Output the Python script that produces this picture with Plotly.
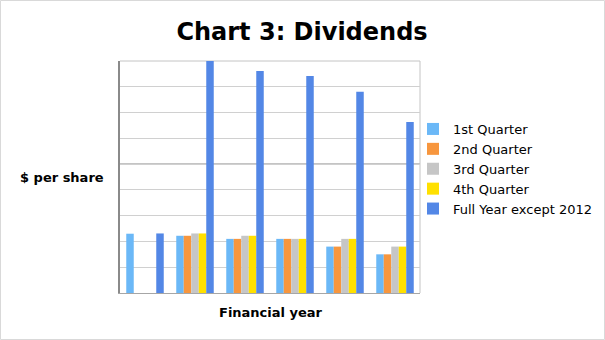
import plotly.graph_objects as go

categories = ["2012", "2013", "2014", "2015", "2016", "2017"]
q1 = [0.23, 0.222, 0.21, 0.21, 0.18, 0.15]
q2 = [None, 0.222, 0.21, 0.21, 0.18, 0.15]
q3 = [None, 0.231, 0.222, 0.21, 0.21, 0.18]
q4 = [None, 0.231, 0.222, 0.21, 0.21, 0.18]
full = [0.231, 0.93, 0.861, 0.842, 0.781, 0.663]

series_names = ["1st Quarter", "2nd Quarter", "3rd Quarter", "4th Quarter", "Full Year except 2012"]
bar_colors = ["#6bb8f7", "#f7963e", "#c6c6c6", "#ffe000", "#5387e6"]

FONT = "DejaVu Sans"
L, R, T, B = 120, 185, 61, 47
W, H = 605, 340
pw, ph = W - L - R, H - T - B

fig = go.Figure()
for name, vals, col in zip(series_names, [q1, q2, q3, q4, full], bar_colors):
    fig.add_trace(go.Bar(name=name, x=categories, y=vals, marker=dict(color=col, line=dict(width=0))))

fig.update_layout(
    width=W, height=H,
    margin=dict(l=L, r=R, t=T, b=B, autoexpand=False),
    paper_bgcolor="white", plot_bgcolor="white",
    barmode="group", bargap=0.25, bargroupgap=0,
    font=dict(family=FONT, size=12, color="#000000"),
    title=dict(text="<b>Chart 3: Dividends</b>", x=302 / W, xanchor="center", xref="container",
               y=1 - 32 / H, yanchor="middle", yref="container",
               font=dict(family=FONT, size=24, color="#000000")),
    showlegend=True,
    legend=dict(x=413 / W, xanchor="left", xref="container", y=1 - 169 / H, yanchor="middle", yref="container",
                font=dict(family=FONT, size=13, color="#000000"), bgcolor="rgba(0,0,0,0)",
                tracegroupgap=0, itemwidth=30),
    xaxis=dict(showticklabels=False, ticks="", showgrid=False, showline=True, linecolor="#a6a6a6",
               linewidth=1, mirror=False, zeroline=False),
    yaxis=dict(range=[0, 0.9], dtick=0.1, showticklabels=False, ticks="", showgrid=True,
               gridcolor="#d0d0d0", gridwidth=1, showline=True, linecolor="#8a8a8a", linewidth=1.5,
               mirror=False, zeroline=False),
    annotations=[
        dict(text="<b>$ per share</b>", x=(106 - L) / pw, xanchor="right", y=(H - B - 177) / ph,
             yanchor="middle", xref="paper", yref="paper", showarrow=False,
             font=dict(family=FONT, size=13, color="#000000")),
        dict(text="<b>Financial year</b>", x=(271 - L) / pw, xanchor="center", y=(H - B - 312) / ph,
             yanchor="middle", xref="paper", yref="paper", showarrow=False,
             font=dict(family=FONT, size=13, color="#000000")),
    ],
    shapes=[
        dict(type="rect", xref="paper", yref="paper",
             x0=(0.5 - L) / pw, x1=(W - 0.5 - L) / pw,
             y0=(H - B - (H - 0.5)) / ph, y1=(H - B - 0.5) / ph,
             line=dict(color="#d9d9d9", width=1), fillcolor="rgba(0,0,0,0)", layer="below"),
        dict(type="line", xref="paper", yref="y", x0=0, x1=1, y0=0.5, y1=0.5,
             line=dict(color="#b0b0b0", width=1.5), layer="below"),
        dict(type="line", xref="paper", yref="paper", x0=0, x1=1, y0=1, y1=1,
             line=dict(color="#c4c4c4", width=1), layer="below"),
        dict(type="line", xref="paper", yref="paper", x0=1, x1=1, y0=0, y1=1,
             line=dict(color="#c4c4c4", width=1), layer="below"),
    ],
)

fig.write_html("out.html")
